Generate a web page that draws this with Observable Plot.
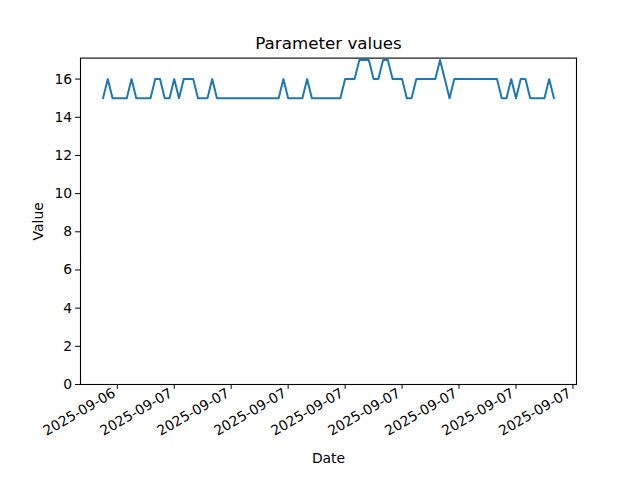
<!DOCTYPE html>
<html>
<head>
<meta charset="utf-8">
<script src="https://cdn.jsdelivr.net/npm/d3@7"></script>
<script src="https://cdn.jsdelivr.net/npm/@observablehq/plot@0.6"></script>
<style>
  html, body { margin: 0; padding: 0; background: white; }
  svg { display: block; }
</style>
</head>
<body>
<div id="chart"></div>
<script>
// Chart data (15-minute readings, starting 2025-09-06 20:15 UTC)
const title = "Parameter values";
const xLabel = "Date";
const yLabel = "Value";
const startTime = "2025-09-06T20:15:00Z";
const stepMinutes = 15;
const values = [
  15,16,15,15,15,15,16,15,15,15,
  15,16,16,15,15,16,15,16,16,16,
  15,15,15,16,15,15,15,15,15,15,
  15,15,15,15,15,15,15,15,16,15,
  15,15,15,16,15,15,15,15,15,15,
  15,16,16,16,17,17,17,16,16,17,
  17,16,16,16,15,15,16,16,16,16,
  16,17,16,15,16,16,16,16,16,16,
  16,16,16,16,15,15,16,15,16,16,
  15,15,15,15,16,15
];
const xTicks = [
  "2025-09-06T21:00:00Z","2025-09-07T00:00:00Z","2025-09-07T03:00:00Z",
  "2025-09-07T06:00:00Z","2025-09-07T09:00:00Z","2025-09-07T12:00:00Z",
  "2025-09-07T15:00:00Z","2025-09-07T18:00:00Z","2025-09-07T21:00:00Z"
];
const yTicks = [0, 2, 4, 6, 8, 10, 12, 14, 16];

const t0 = new Date(startTime);
const data = values.map((v, i) => ({date: d3.utcMinute.offset(t0, i * stepMinutes), value: v}));
const xExt = d3.extent(data, d => d.date);
const span = xExt[1] - xExt[0];
const xDomain = [new Date(+xExt[0] - 0.05 * span), new Date(+xExt[1] + 0.05 * span)];
const xTickDates = xTicks.map(s => new Date(s));

const chart = Plot.plot({
  width: 640,
  height: 480,
  marginLeft: 80,
  marginRight: 64,
  marginTop: 57.6,
  marginBottom: 96,
  style: {fontFamily: "DejaVu Sans", fontSize: "13.9px", background: "white", color: "black", overflow: "visible"},
  x: {type: "utc", domain: xDomain},
  y: {domain: [0, 17.1]},
  marks: [
    Plot.axisY({ticks: yTicks, tickSize: 4.9, tickPadding: 3.5, tickFormat: d => String(d),
      label: yLabel, labelAnchor: "center", labelArrow: "none", labelOffset: 47, fontSize: 13.9}),
    Plot.axisX({ticks: xTickDates, tickFormat: () => "", tickSize: 4.9,
      label: xLabel, labelAnchor: "center", labelArrow: "none", labelOffset: 78, fontSize: 13.9}),
    Plot.axisX({ticks: xTickDates, tickFormat: d3.utcFormat("%Y-%m-%d"),
      tickRotate: -30, tickSize: 0, tickPadding: 7.4, dx: -3, label: null, fontSize: 13.9}),
    Plot.line(data, {x: "date", y: "value", stroke: "#1f77b4", strokeWidth: 2}),
    Plot.frame({stroke: "black", strokeWidth: 1.1}),
    Plot.text([title], {frameAnchor: "top", dy: -9, lineAnchor: "bottom", fontSize: 16.7, fill: "black"})
  ]
});
document.getElementById("chart").appendChild(chart);
</script>
</body>
</html>
